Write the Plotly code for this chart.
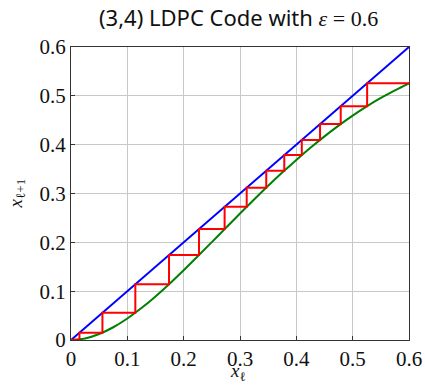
import plotly.graph_objects as go

# Density evolution map x_{l+1} = f(x_l) (green curve)
curve_x = [0, 0.025, 0.05, 0.075, 0.1, 0.125, 0.15, 0.175, 0.2, 0.225, 0.25, 0.275,
           0.3, 0.325, 0.35, 0.375, 0.4, 0.425, 0.45, 0.475, 0.5, 0.525, 0.55, 0.575, 0.6]
curve_y = [0, 0.0032, 0.0122, 0.0261, 0.0441, 0.0654, 0.0893, 0.1154, 0.1429, 0.1714,
           0.2005, 0.2298, 0.2590, 0.2877, 0.3157, 0.3428, 0.3688, 0.3936, 0.4170,
           0.4389, 0.4594, 0.4783, 0.4956, 0.5114, 0.5257]

# Identity line
diag_x = [0, 0.6]
diag_y = [0, 0.6]

# Iterates x_0, x_1, ... (staircase)
iterates = [0.6, 0.5257, 0.4788, 0.4421, 0.4097, 0.3786, 0.3466, 0.3119, 0.2727,
            0.2272, 0.1740, 0.1142, 0.0558, 0.0150, 0.0012, 0.0]

stair_x, stair_y = [], []
for i in range(len(iterates) - 1):
    a, b = iterates[i], iterates[i + 1]
    if i == 0:
        stair_x.append(a); stair_y.append(b)
    stair_x.append(b); stair_y.append(b)
    if i + 2 < len(iterates):
        stair_x.append(b); stair_y.append(iterates[i + 2])

serif = "Liberation Serif"
fig = go.Figure()
fig.add_trace(go.Scatter(x=diag_x, y=diag_y, mode="lines",
                         line=dict(color="#0000ff", width=2), showlegend=False))
fig.add_trace(go.Scatter(x=curve_x, y=curve_y, mode="lines", line_shape="spline",
                         line=dict(color="#008000", width=2), showlegend=False))
fig.add_trace(go.Scatter(x=stair_x, y=stair_y, mode="lines",
                         line=dict(color="#ff0000", width=2), showlegend=False))

axis_common = dict(range=[0, 0.6], dtick=0.1, tick0=0, showgrid=True,
                   gridcolor="#c8c8c8", gridwidth=1, zeroline=False,
                   showline=True, linecolor="#333333", linewidth=1.2, mirror=True,
                   ticks="inside", ticklen=4, tickcolor="#333333", automargin=False,
                   ticklabeloverflow="allow",
                   tickfont=dict(family=serif, size=21, color="#111111"))

fig.update_xaxes(**axis_common)
fig.update_yaxes(**axis_common)

fig.update_layout(
    width=425, height=385,
    margin=dict(l=71, r=16, t=47, b=45),
    plot_bgcolor="white", paper_bgcolor="white",
    annotations=[
        dict(text="(3,4) LDPC Code with <span style='font-family:Liberation Serif'><i>ε</i> = 0.6</span>",
             xref="paper", yref="paper", x=0.497, y=1.0, yshift=30,
             xanchor="center", yanchor="middle", showarrow=False,
             font=dict(family="Noto Sans", size=22, color="#111111")),
        dict(text="<i>x</i><sub>ℓ</sub>", xref="paper", yref="paper",
             x=0.495, y=0, yshift=-32, xanchor="center", yanchor="middle",
             showarrow=False, font=dict(family=serif, size=19, color="#111111")),
        dict(text="<i>x</i><sub>ℓ+1</sub>", xref="paper", yref="paper",
             x=0, y=0.5, xshift=-55, xanchor="center", yanchor="middle",
             textangle=-90, showarrow=False,
             font=dict(family=serif, size=19, color="#111111")),
    ],
)

page_fix = ("document.body.style.margin='0';"
            "document.body.style.overflow='hidden';"
            "document.documentElement.style.overflow='hidden';")

fig.write_html("out.html", post_script=page_fix,
               config={"displayModeBar": False})
